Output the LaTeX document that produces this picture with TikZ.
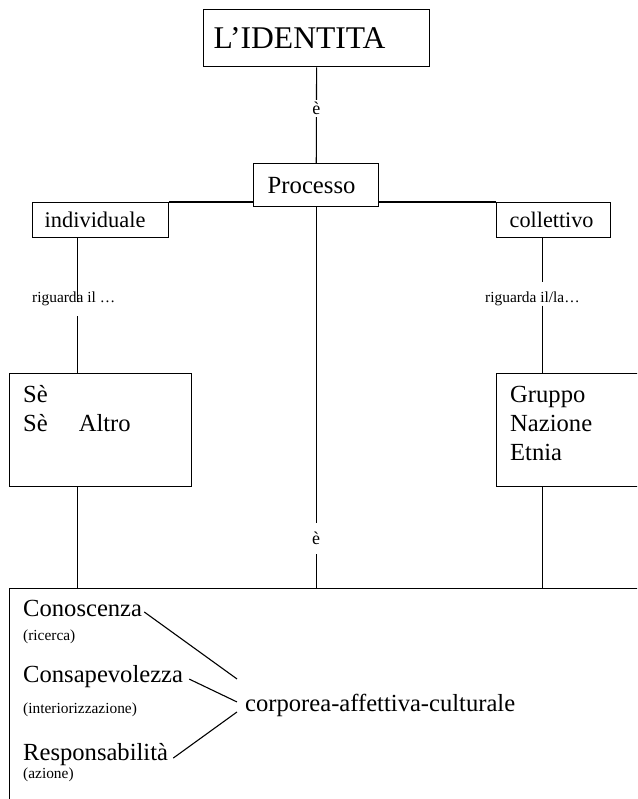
\documentclass[tikz,border=0pt]{standalone}
\usepackage{fontspec}
\setmainfont{Liberation Serif}
\usetikzlibrary{positioning}

\tikzset{
  box/.style={draw, line width=1.4pt, fill=white, inner ysep=0pt, anchor=north west},
  conn/.style={line width=1.1pt},
  txt/.style={inner sep=0pt, font=\fontsize{24.6}{29}\selectfont},
  note/.style={inner sep=0pt, font=\fontsize{15.4}{18}\selectfont},
  elbl/.style={fill=white, inner xsep=1pt, inner ysep=2pt, font=\fontsize{18}{21}\selectfont},
}

\begin{document}
\begin{tikzpicture}[x=1pt, y=-1pt]
    \path[use as bounding box, clip] (0,0) rectangle (637,799);

    % Boxes
    \node[box, inner xsep=10pt, text width=206pt, minimum height=57pt, align=left, font=\fontsize{31.6}{36}\selectfont] (ident) at (203,9) {L’IDENTITA};
    \node[box, inner xsep=14pt, text width=97pt, minimum height=43pt, align=left, font=\fontsize{24.7}{29}\selectfont] (proc) at (253,163) {Processo};
    \node[box, inner xsep=12pt, text width=112pt, minimum height=35pt, align=left, font=\fontsize{22.4}{26}\selectfont] (indiv) at (32,202) {individuale};
    \node[box, inner xsep=13pt, text width=88pt, minimum height=35pt, align=left, font=\fontsize{22.2}{26}\selectfont] (coll) at (496,202) {collettivo};

    \node[box, minimum width=182pt, minimum height=113pt] (sebox) at (9,373) {};
    \node[txt, anchor=north west, align=left] (setxt) at (23,385) {Sè\\Sè\hspace{31pt}Altro};
    \node[box, minimum width=182pt, minimum height=113pt] (grbox) at (496,373) {};
    \node[txt, anchor=north west, align=left] (grtxt) at (510,386) {Gruppo\\Nazione\\Etnia};

    \node[box, minimum width=700pt, minimum height=300pt] (bottom) at (9,588) {};

    % Bottom box contents
    \node[txt, anchor=base west] (cono) at (23,616) {Conoscenza};
    \node[note, anchor=base west] (ricer) at (23,640) {(ricerca)};
    \node[txt, anchor=base west] (consa) at (23,682) {Consapevolezza};
    \node[note, anchor=base west] (inter) at (23,713) {(interiorizzazione)};
    \node[txt, anchor=base west] (resp) at (23,760) {Responsabilità};
    \node[note, anchor=base west] (azio) at (23,778) {(azione)};
    \node[txt, anchor=base west] (corp) at (245,711) {corporea-affettiva-culturale};

    % Line labels
    \node[note, anchor=base west, text depth=14pt] (rig1) at (32,302) {riguarda il …};
    \node[note, anchor=base west, text height=20pt, text depth=3.4pt] (rig2) at (485,302) {riguarda il/la…};

    % Connectors
    \draw[conn] (ident) -- node[elbl, pos=.43] (e1) {è} (proc);
    \draw[conn] (proc) -- node[elbl, pos=.87, inner ysep=9pt] (e2) {è} (proc.south |- bottom.north);
    \draw[conn] (indiv.north east) -- (proc.west |- indiv.north);
    \draw[conn] (proc.east |- coll.north) -- (coll.north west);

    \coordinate (l1) at ([xshift=-23pt]indiv.south);
    \coordinate (r1) at ([xshift=-11pt]coll.south);
    \draw[conn] (l1) -- (l1 |- rig1.base);
    \draw[conn] (l1 |- rig1.south) -- (l1 |- sebox.north);
    \draw[conn] (l1 |- sebox.south) -- (l1 |- bottom.north);
    \draw[conn] (r1) -- (r1 |- rig2.north);
    \draw[conn] (r1 |- rig2.south) -- (r1 |- grbox.north);
    \draw[conn] (r1 |- grbox.south) -- (r1 |- bottom.north);

    \draw[conn] ([shift={(2,4)}]cono.east) -- ([shift={(-8,-26)}]corp.west);
    \draw[conn] ([shift={(6,3)}]consa.east) -- ([shift={(-8,-3)}]corp.west);
    \draw[conn] ([shift={(5,4)}]resp.east) -- ([shift={(-8,7)}]corp.west);
\end{tikzpicture}
\end{document}
